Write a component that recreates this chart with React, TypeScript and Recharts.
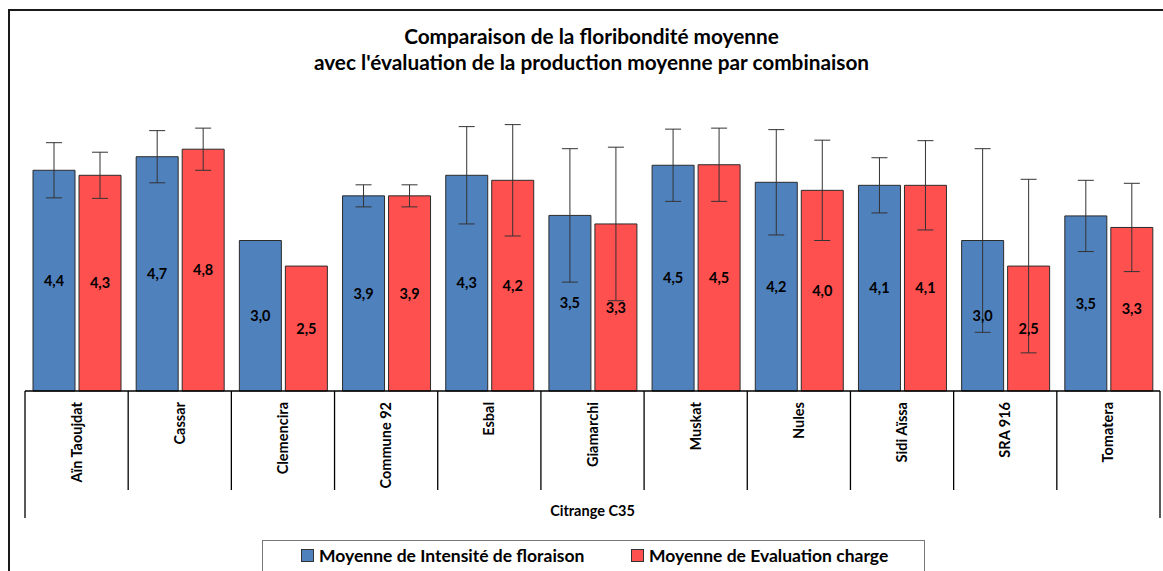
import { BarChart, Bar, XAxis, YAxis, ErrorBar, LabelList } from 'recharts';

const categories = [
  'Aïn Taoujdat', 'Cassar', 'Clemencira', 'Commune 92', 'Esbal', 'Giamarchi',
  'Muskat', 'Nules', 'Sidi Aïssa', 'SRA 916', 'Tomatera',
];
const floraison = [4.4, 4.67, 3.0, 3.89, 4.3, 3.5, 4.5, 4.16, 4.1, 3.0, 3.49];
const floraisonErr = [0.55, 0.52, null, 0.22, 0.97, 1.33, 0.72, 1.05, 0.55, 1.83, 0.71];
const charge = [4.3, 4.82, 2.49, 3.89, 4.2, 3.33, 4.51, 4.0, 4.1, 2.49, 3.26];
const chargeErr = [0.46, 0.42, null, 0.22, 1.11, 1.53, 0.73, 1.0, 0.89, 1.73, 0.88];

const seriesNames = ['Moyenne de Intensité de floraison', 'Moyenne de Evaluation charge'];
const BLUE = '#4F81BD';
const RED = '#FF5050';
const FONT = 'Lato, "Open Sans", sans-serif';

const W = 1163;
const H = 571;
const PLOT_L = 25;
const PLOT_R = 1160;
const AXIS_Y = 391;
const BAND = (PLOT_R - PLOT_L) / categories.length;

const data = categories.map((name, i) => ({
  name,
  floraison: floraison[i],
  floraisonErr: floraisonErr[i],
  charge: charge[i],
  chargeErr: chargeErr[i],
}));

const fmt = (v: unknown) => Number(v).toFixed(1).replace('.', ',');

function CategoryTick(props: any) {
  const { x, payload, index } = props;
  const left = x - BAND / 2;
  const right = x + BAND / 2;
  const ty = AXIS_Y + 11;
  return (
    <g>
      <line x1={left} x2={left} y1={AXIS_Y} y2={index === 0 ? 518 : 490} stroke="#000" strokeWidth={1.3} />
      {index === categories.length - 1 && (
        <line x1={right} x2={right} y1={AXIS_Y} y2={518} stroke="#000" strokeWidth={1.3} />
      )}
      <text
        x={x} y={ty} dy="0.35em"
        transform={`rotate(-90 ${x} ${ty})`}
        textAnchor="end"
        fontFamily={FONT} fontWeight="bold" fontSize={14.5} fill="#000"
      >
        {payload.value}
      </text>
    </g>
  );
}

export default function App() {
  return (
    <div style={{ position: 'absolute', left: 0, top: 0, width: W, height: H, overflow: 'hidden', background: '#fff' }}>
      <div style={{
        position: 'absolute', left: 8, top: 9, width: W + 20, height: H + 20,
        borderLeft: '2px solid #1a1a1a', borderTop: '2px solid #1a1a1a',
      }} />
      <div style={{
        position: 'absolute', left: 0, top: 23, width: 1183, textAlign: 'center',
        fontFamily: FONT, fontWeight: 'bold', fontSize: 20.8, lineHeight: '26px', color: '#000',
      }}>
        Comparaison de la floribondité moyenne<br />
        avec l'évaluation de la production moyenne par combinaison
      </div>

      <div style={{ position: 'absolute', left: 0, top: 0 }}>
        <BarChart
          width={W} height={H} data={data}
          margin={{ top: 90, right: W - PLOT_R, left: PLOT_L, bottom: H - AXIS_Y - 130 }}
          barCategoryGap={8} barGap={4}
        >
          <XAxis
            dataKey="name" interval={0} height={130}
            tick={<CategoryTick />} tickLine={false}
            axisLine={{ stroke: '#000', strokeWidth: 1.3 }}
            label={{ value: 'Citrange C35', position: 'insideBottom', offset: 5, fontFamily: FONT, fontWeight: 'bold', fontSize: 14.5, fill: '#000' }}
          />
          <YAxis hide domain={[0, 6]} />
          <Bar dataKey="floraison" name={seriesNames[0]} fill={BLUE} stroke="#2b2b2b" strokeWidth={1} isAnimationActive={false}>
            <ErrorBar dataKey="floraisonErr" width={8} stroke="#333" strokeWidth={1} />
            <LabelList dataKey="floraison" position="center" formatter={fmt}
              style={{ fontFamily: FONT, fontWeight: 'bold', fontSize: 14.5, fill: '#000' }} />
          </Bar>
          <Bar dataKey="charge" name={seriesNames[1]} fill={RED} stroke="#2b2b2b" strokeWidth={1} isAnimationActive={false}>
            <ErrorBar dataKey="chargeErr" width={8} stroke="#333" strokeWidth={1} />
            <LabelList dataKey="charge" position="center" formatter={fmt}
              style={{ fontFamily: FONT, fontWeight: 'bold', fontSize: 14.5, fill: '#000' }} />
          </Bar>
        </BarChart>
      </div>

      <div style={{
        position: 'absolute', left: 262, top: 540, width: 663, height: 60,
        border: '1px solid #777', boxSizing: 'border-box',
        fontFamily: FONT, fontWeight: 'bold', fontSize: 17.5, color: '#000',
      }}>
        {seriesNames.map((n, i) => (
          <span key={n} style={{ position: 'absolute', top: 4, left: i === 0 ? 38 : 368, display: 'flex', alignItems: 'center' }}>
            <span style={{ width: 11, height: 11, background: i === 0 ? BLUE : RED, border: '1px solid #333', marginRight: 5 }} />
            {n}
          </span>
        ))}
      </div>
    </div>
  );
}
